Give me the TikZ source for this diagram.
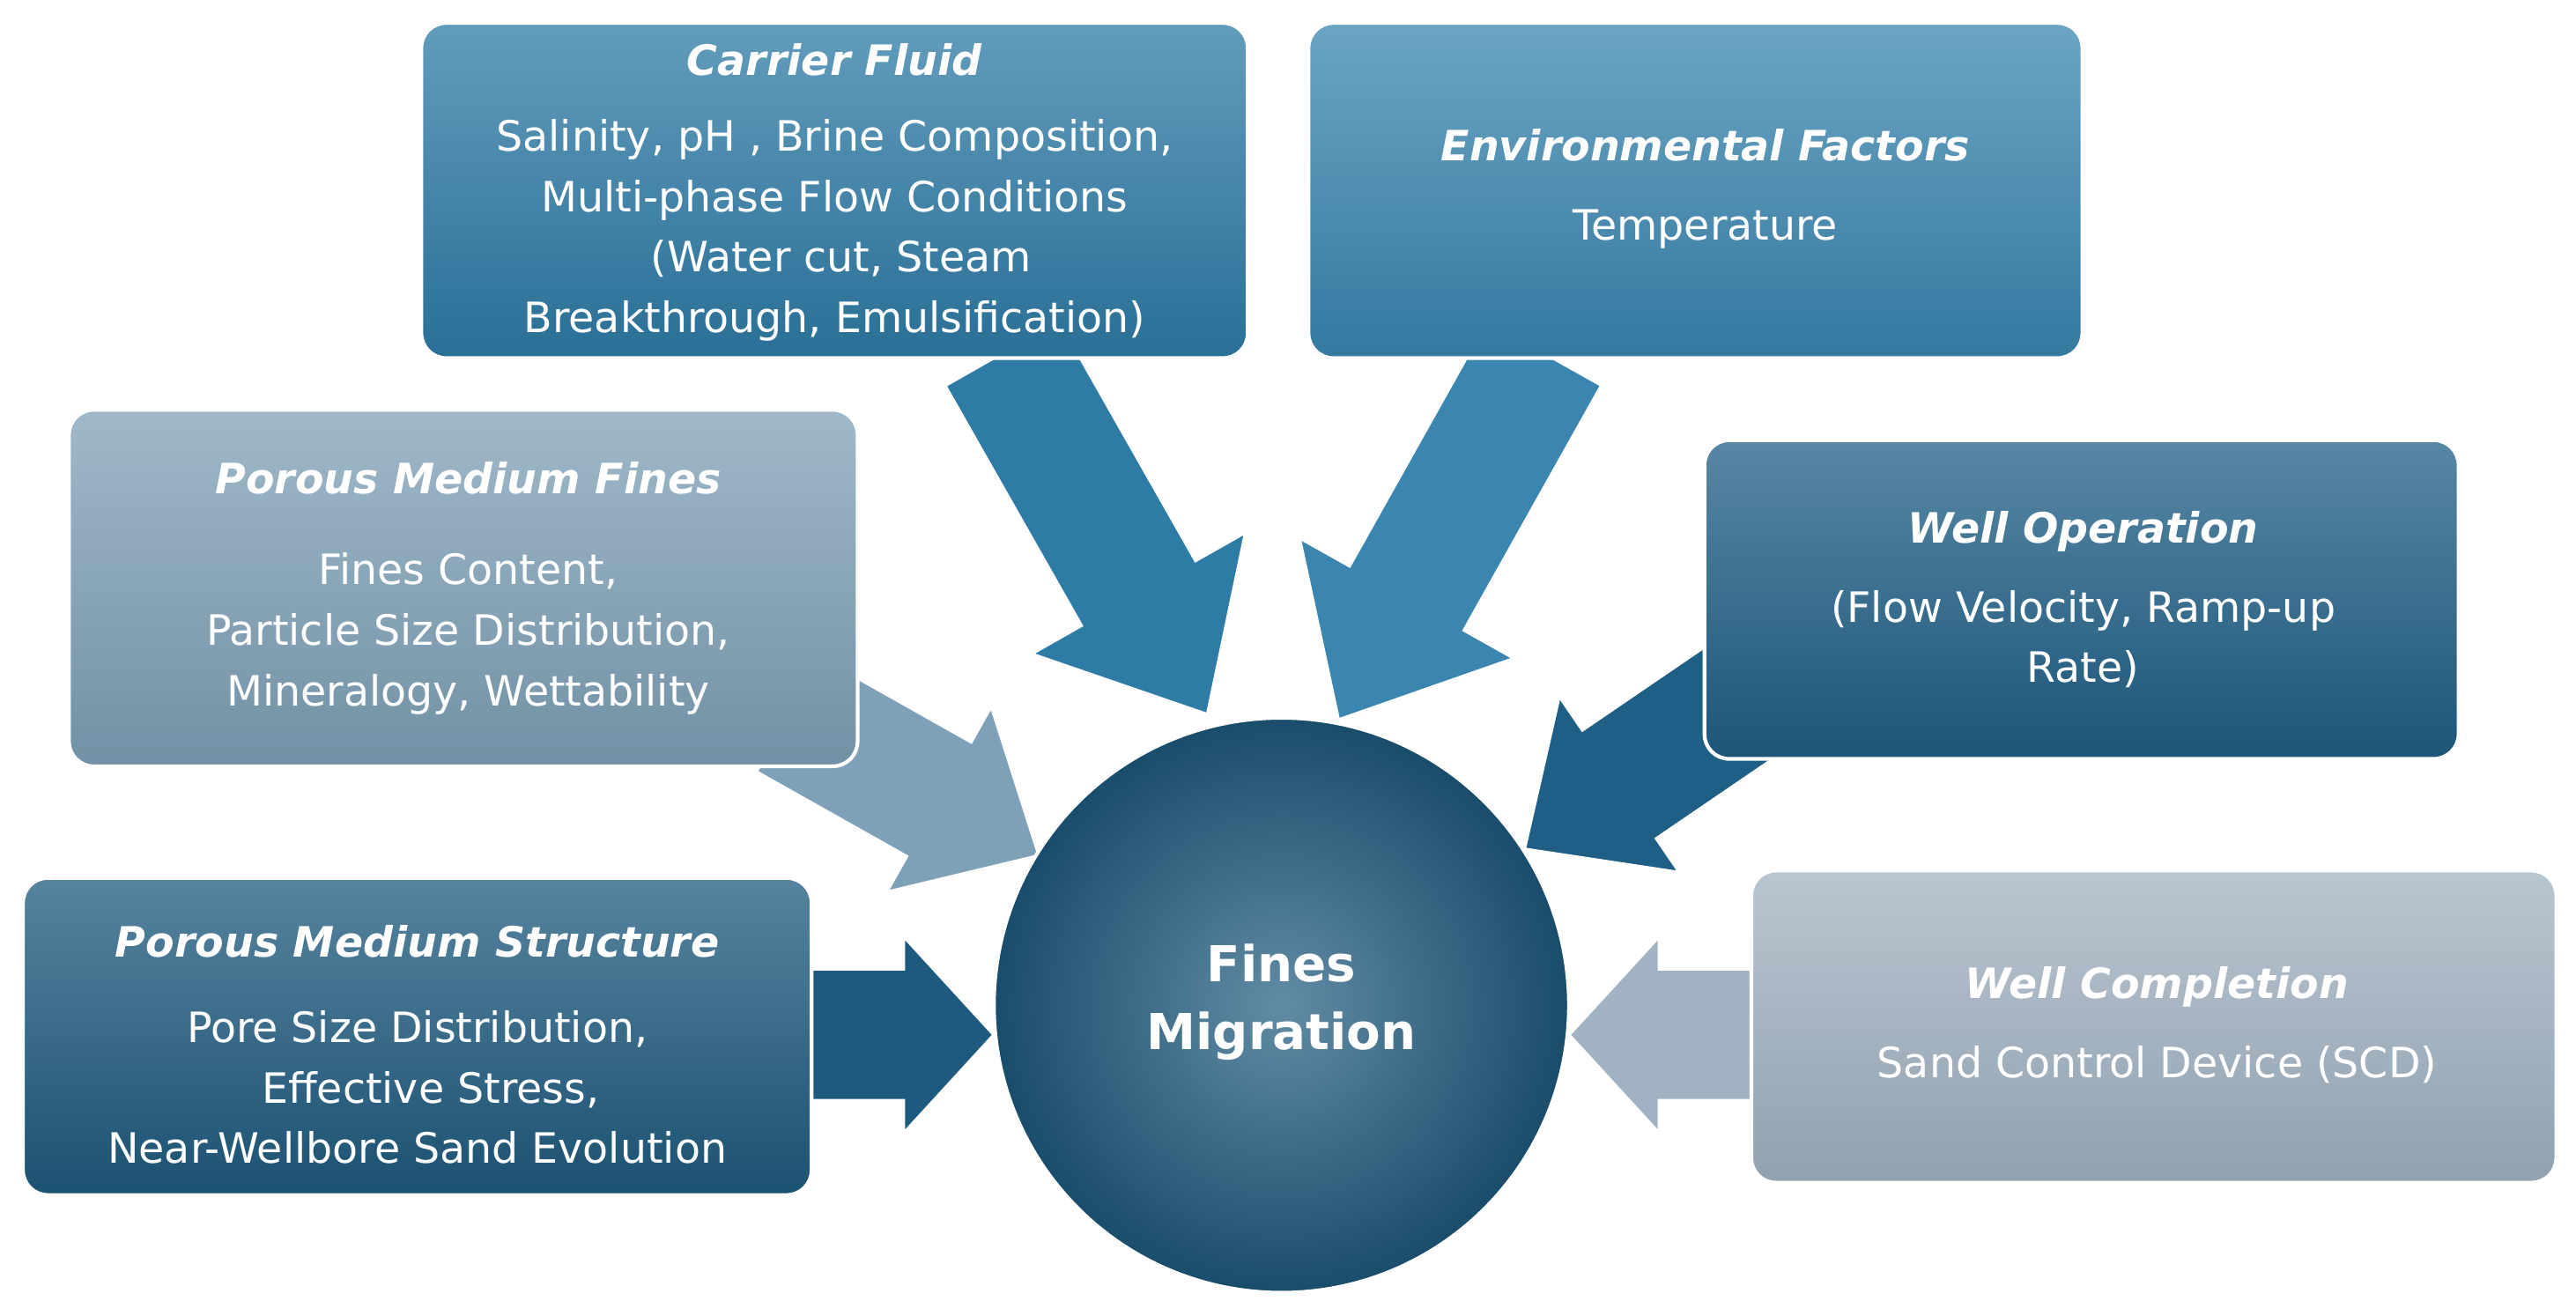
\documentclass[tikz,border=0pt]{standalone}
\usepackage{fontspec}
\setmainfont{DejaVu Sans}
\newcommand\hdr{\bfseries\itshape}
\begin{document}
\begin{tikzpicture}[x=0.01865cm,y=-0.01865cm,
  box/.style={draw=white,line width=1.2pt,rounded corners=8pt,inner sep=0pt},
  txt/.style={text=white,align=center,font=\fontsize{13.5}{19.5}\selectfont}]
\useasboundingbox (0,0) rectangle (1568,792);
\definecolor{cA}{HTML}{2E7BA6}
\definecolor{cB}{HTML}{3A86B0}
\definecolor{cC}{HTML}{7FA1B8}
\definecolor{cD}{HTML}{1F5F86}
\definecolor{cE}{HTML}{1E5A7E}
\definecolor{cF}{HTML}{A1B3C2}
\newcommand\barrow[6]{%
\begin{scope}[shift={#1},rotate=#2]
\fill[#6,draw=white,line width=1pt] (0,-40) -- (#3-#4,-40) -- (#3-#4,-#5) -- (#3,0) -- (#3-#4,#5) -- (#3-#4,40) -- (0,40) -- cycle;
\end{scope}}
% arrows
\barrow{(610,215)}{-60.4}{253}{85}{75}{cA}
\barrow{(940,215)}{-119.3}{256}{85}{75}{cB}
\barrow{(480,435)}{-29.4}{175}{70}{65}{cC}
\barrow{(1070,420)}{-145.7}{172}{70}{65}{cD}
\barrow{(480,630)}{0}{125}{55}{60}{cE}
\barrow{(1080,630)}{180}{125}{55}{60}{cF}
% boxes
\node[box,top color=cA!75!white,bottom color=cA!90!black,minimum width=503*0.01865cm,minimum height=204*0.01865cm] (b1) at (508,116) {};
\node[box,top color=cB!75!white,bottom color=cB!90!black,minimum width=471*0.01865cm,minimum height=204*0.01865cm] (b2) at (1032,116) {};
\node[box,top color=cC!75!white,bottom color=cC!90!black,minimum width=480*0.01865cm,minimum height=217*0.01865cm] (b3) at (282,358) {};
\node[box,top color=cD!75!white,bottom color=cD!90!black,minimum width=459*0.01865cm,minimum height=194*0.01865cm] (b4) at (1267,365) {};
\node[box,top color=cE!75!white,bottom color=cE!90!black,minimum width=480*0.01865cm,minimum height=193*0.01865cm] (b5) at (254,631) {};
\node[box,top color=cF!75!white,bottom color=cF!90!black,minimum width=490*0.01865cm,minimum height=190*0.01865cm] (b6) at (1311,625) {};
% circle
\node[circle,draw=white,line width=1.2pt,inner color=cE!70!white,outer color=cE!85!black,minimum size=350*0.01865cm] (c) at (780,612) {};
% texts
\node[txt] (t1) at (508,117) {{\hdr Carrier Fluid}\\[5pt]Salinity, pH , Brine Composition,\\Multi-phase Flow Conditions\\ \ (Water cut, Steam\\Breakthrough, Emulsification)};
\node[txt] (t2) at (1038,115) {{\hdr Environmental Factors}\\[6pt]Temperature};
\node[txt] (t3) at (285,358) {{\hdr Porous Medium Fines}\\[10pt]Fines Content,\\Particle Size Distribution,\\Mineralogy, Wettability};
\node[txt] (t4) at (1268,365) {{\hdr Well Operation}\\[6pt](Flow Velocity, Ramp-up\\Rate)};
\node[txt] (t5) at (254,636) {{\hdr Porous Medium Structure}\\[8pt]Pore Size Distribution,\\ \ \ Effective Stress,\\Near-Wellbore Sand Evolution};
\node[txt] (t6) at (1313,624) {{\hdr Well Completion}\\[6pt]Sand Control Device (SCD)};
\node[txt,font=\fontsize{16}{22}\selectfont\bfseries] (tc) at (780,610) {Fines\\Migration};
\end{tikzpicture}
\end{document}
